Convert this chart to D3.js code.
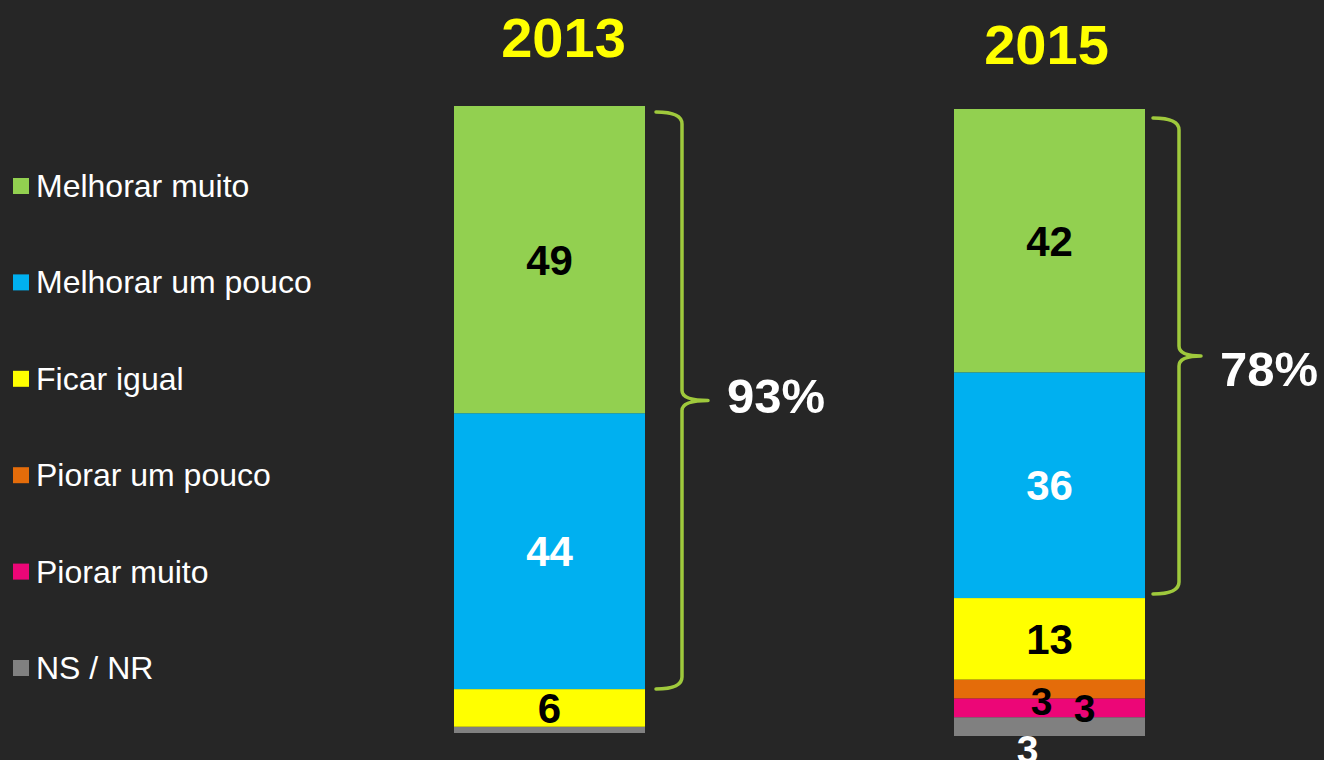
<!DOCTYPE html>
<html lang="pt">
<head>
  <meta charset="UTF-8">
  <title>Expectativa 2013 x 2015</title>
  <style>
    html, body {
      margin: 0;
      padding: 0;
      background-color: #262626;
      overflow: hidden;
    }

    svg {
      display: block;
      font-family: Arial, "Liberation Sans", sans-serif;
    }

    .legend text {
      fill: #fff;
      font-size: 32px;
    }

    .year {
      fill: #ffff00;
      font-size: 56px;
      font-weight: bold;
    }

    .value {
      font-weight: bold;
      text-anchor: middle;
    }

    .brace {
      fill: none;
      stroke: #9fc93c;
      stroke-width: 3.5px;
      stroke-linecap: round;
      stroke-linejoin: round;
    }

    .total {
      fill: #fff;
      font-size: 49px;
      font-weight: bold;
    }
  </style>
  <script src="https://d3js.org/d3.v7.min.js"></script>
</head>

<body>
  <svg width="1324" height="760"></svg>

  <script>
    // data
    const categories = ["Melhorar muito", "Melhorar um pouco", "Ficar igual", "Piorar um pouco", "Piorar muito", "NS / NR"];
    const colors = ["#92d050", "#00b0f0", "#ffff00", "#e46c0a", "#ec0677", "#808080"];
    const years = ["2013", "2015"];
    const values2013 = [49, 44, 6, 0, 0, 1];
    const values2015 = [42, 36, 13, 3, 3, 3];
    const totals = ["93%", "78%"];

    // layout (per bar / per label tweaks)
    const barTop = { "2013": 106, "2015": 109 };
    const titlePos = { "2013": { dx: 14, y: 57 }, "2015": { dx: -3, y: 64 } };
    const bracePos = {
      "2013": { dx: 37, w: 26, top: 6, bot: 0, dy: 12 },
      "2015": { dx: 34, w: 22, top: 9, bot: 4, dy: 30 }
    };
    const smallLabel = {
      "2015": {
        "Piorar um pouco": { dx: -8, dy: 12, size: 39, fill: "#000" },
        "Piorar muito": { dx: 35, dy: 0, size: 39, fill: "#000" },
        "NS / NR": { dx: -22, dy: 22, size: 39, fill: "#fff" }
      }
    };
    const labelFill = ["#000", "#fff", "#000", "#000", "#000", "#fff"];

    const svg = d3.select("svg");
    const barW = 191;
    const barH = 627;

    const x = d3.scalePoint().domain(years).range([549.5, 1049.5]);
    const y = d3.scaleLinear().domain([0, 100]).range([barH, 0]);

    const rows = [values2013, values2015].map((vals, i) => {
      const row = { year: years[i], total: totals[i] };
      categories.forEach((c, j) => row[c] = vals[j]);
      return row;
    });

    const stack = d3.stack().keys(categories.slice().reverse());
    const series = stack(rows);
    const color = d3.scaleOrdinal().domain(categories).range(colors);

    // legend
    const legend = svg.append("g").attr("class", "legend");
    const ly = d3.scalePoint().domain(categories).range([186, 668]);
    const li = legend.selectAll("g").data(categories).enter().append("g")
      .attr("transform", d => `translate(13,${ly(d)})`);
    li.append("rect").attr("y", -8).attr("width", 16).attr("height", 16).attr("fill", d => color(d));
    li.append("text").attr("x", 23).attr("y", 11).text(d => d);

    // bars
    const bars = svg.selectAll("g.bar").data(rows).enter().append("g")
      .attr("class", "bar")
      .attr("transform", d => `translate(${x(d.year) - barW / 2},${barTop[d.year]})`);

    series.forEach(s => {
      bars.append("rect")
        .datum(d => s.find(p => p.data.year === d.year))
        .attr("x", 0)
        .attr("width", barW)
        .attr("y", d => y(d[1]))
        .attr("height", d => y(d[0]) - y(d[1]))
        .attr("fill", color(s.key));
    });

    // value labels
    series.forEach(s => {
      const j = categories.indexOf(s.key);
      bars.each(function (row) {
        const p = s.find(q => q.data.year === row.year);
        const v = p[1] - p[0];
        if (v < 3) return;
        const tweak = (smallLabel[row.year] || {})[s.key];
        const cy = (y(p[0]) + y(p[1])) / 2;
        const size = tweak ? tweak.size : 42;
        d3.select(this).append("text")
          .attr("class", "value")
          .attr("x", barW / 2 + (tweak ? tweak.dx : 0))
          .attr("y", cy + (tweak ? tweak.dy : 0) + size * 0.36)
          .attr("fill", tweak ? tweak.fill : labelFill[j])
          .style("font-size", size + "px")
          .text(v);
      });
    });

    // year titles
    svg.selectAll("text.year").data(years).enter().append("text")
      .attr("class", "year")
      .attr("text-anchor", "middle")
      .attr("x", d => x(d) + titlePos[d].dx)
      .attr("y", d => titlePos[d].y)
      .text(d => d);

    // braces over the two "melhorar" segments
    rows.forEach(row => {
      const pos = bracePos[row.year];
      const sumFrom = k => d3.sum(categories.slice(k), c => row[c]);
      const top = barTop[row.year] + y(sumFrom(0)) + pos.top;
      const bot = barTop[row.year] + y(sumFrom(2)) - pos.bot;
      const mid = (top + bot) / 2;
      const bx = x(row.year) + barW / 2 + pos.dx;
      const w = pos.w;
      const path = d3.path();
      path.moveTo(bx - 26, top);
      path.quadraticCurveTo(bx, top, bx, top + 12);
      path.lineTo(bx, mid - 10);
      path.quadraticCurveTo(bx, mid, bx + w, mid);
      path.moveTo(bx + w, mid);
      path.quadraticCurveTo(bx, mid, bx, mid + 10);
      path.lineTo(bx, bot - 12);
      path.quadraticCurveTo(bx, bot, bx - 26, bot);
      svg.append("path").attr("class", "brace").attr("d", path.toString());

      svg.append("text")
        .attr("class", "total")
        .attr("x", bx + w + 19)
        .attr("y", mid + pos.dy)
        .text(row.total);
    });
  </script>
</body>
</html>
